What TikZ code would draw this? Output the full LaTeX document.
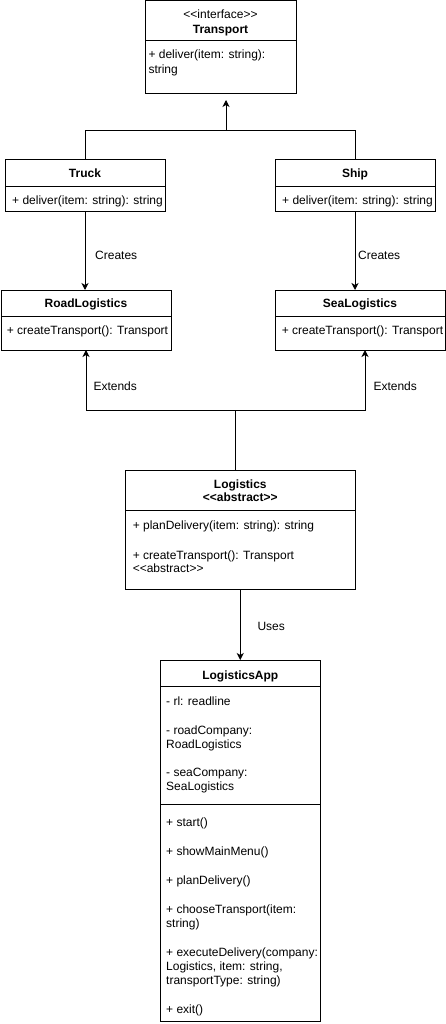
\documentclass[tikz,border=0pt]{standalone}
\usepackage{fontspec}
\newfontfamily\umlfont{Liberation Sans}
\usetikzlibrary{arrows.meta,calc}
\newcommand{\umlsize}{\fontsize{12pt}{14pt}\selectfont}

\begin{document}
\begin{tikzpicture}[x=1pt,y=-1pt,
  umlbox/.style={draw,line width=1pt,anchor=north west,inner sep=0pt,outer sep=0pt},
  sepline/.style={line width=1pt},
  clsname/.style={font=\umlfont\umlsize\bfseries,anchor=base,inner sep=0pt},
  stereo/.style={font=\umlfont\umlsize,anchor=base,inner sep=0pt},
  member/.style={font=\umlfont\umlsize,anchor=base west,inner sep=0pt},
  rellabel/.style={font=\umlfont\umlsize,anchor=base west,inner sep=0pt},
  link/.style={line width=1pt},
  rel/.style={line width=1pt,-{Stealth[length=7pt,width=7pt,inset=2pt]}}]
  \useasboundingbox (0,0) rectangle (446,1024);
  % ---------------- Transport <<interface>> --------------------------
  \node[umlbox,minimum width=151,minimum height=93] (transport) at (145,1) {};
  \draw[sepline] (transport.west |- 0,41) -- (transport.east |- 0,41);
  \node[stereo] (transportStereo) at (220.5,18.7) {<<interface>>};
  \node[clsname] (transportName) at (220.5,33.3) {Transport};
  \node[member] (transportM1) at (148.3,59) {+ deliver(item: string):};
  \node[member] (transportM2) at (148.3,73.3) {string};
  % ---------------- concrete products ----------------------------------
  \node[umlbox,minimum width=160,minimum height=52] (truck) at (5,160) {};
  \draw[sepline] (truck.west |- 0,187) -- (truck.east |- 0,187);
  \node[clsname] (truckName) at (85,177.3) {Truck};
  \node[member] (truckM1) at (12,204.7) {+ deliver(item: string): string};
  \node[umlbox,minimum width=160,minimum height=52] (ship) at (275,160) {};
  \draw[sepline] (ship.west |- 0,187) -- (ship.east |- 0,187);
  \node[clsname] (shipName) at (355,177.3) {Ship};
  \node[member] (shipM1) at (282,204.7) {+ deliver(item: string): string};
  % ---------------- concrete creators ----------------------------------
  \node[umlbox,minimum width=170,minimum height=60] (road) at (1,290) {};
  \draw[sepline] (road.west |- 0,316.5) -- (road.east |- 0,316.5);
  \node[clsname] (roadName) at (86,307.3) {RoadLogistics};
  \node[member] (roadM1) at (6.6,334.7) {+ createTransport(): Transport};
  \node[umlbox,minimum width=170,minimum height=60] (sea) at (275,290) {};
  \draw[sepline] (sea.west |- 0,316.5) -- (sea.east |- 0,316.5);
  \node[clsname] (seaName) at (360,307.3) {SeaLogistics};
  \node[member] (seaM1) at (281.6,334.7) {+ createTransport(): Transport};
  % ---------------- Logistics <<abstract>> -----------------------------
  \node[umlbox,minimum width=230.5,minimum height=119] (logistics) at (125,470) {};
  \draw[sepline] (logistics.west |- 0,510) -- (logistics.east |- 0,510);
  \node[clsname] (logisticsName) at (240.3,488) {Logistics};
  \node[clsname] (logisticsStereo) at (240.3,501.7) {<<abstract>>};
  \node[member] (logisticsM1) at (132.6,529.7) {+ planDelivery(item: string): string};
  \node[member] (logisticsM2) at (132.6,559) {+ createTransport(): Transport};
  \node[member] (logisticsM3) at (132.6,572.3) {<<abstract>>};
  % ---------------- LogisticsApp (client) ------------------------------
  \node[umlbox,minimum width=160.5,minimum height=361.5] (app) at (160,660) {};
  \draw[sepline] (app.west |- 0,686) -- (app.east |- 0,686);
  \draw[sepline] (app.west |- 0,804.3) -- (app.east |- 0,804.3);
  \node[clsname] (appName) at (240.3,679) {LogisticsApp};
  \foreach \yy/\txt [count=\i] in {705/{- rl: readline},734/{- roadCompany:},
      748/{RoadLogistics},776.7/{- seaCompany:},790.7/{SeaLogistics},
      826.7/{+ start()},855.7/{+ showMainMenu()},884.7/{+ planDelivery()},
      913.3/{+ chooseTransport(item:},927.3/{string)},
      956.3/{+ executeDelivery(company:},970.3/{Logistics, item: string,},
      984/{transportType: string)},1013/{+ exit()}}
    \node[member] (appL\i) at (166,\yy) {\txt};
  % ---------------- connectors -----------------------------------------
  % realisation: both products join, one arrow up to the interface
  \coordinate (joinTop) at (226,130.5);
  \draw[link] (truck.north) -- (truck.north |- joinTop) -- (ship.north |- joinTop)
      -- (ship.north);
  \draw[rel] (joinTop) -- (joinTop |- 0,100);
  % creators make their product
  \draw[rel] (truck.south) -- (truck.south |- road.north);
  \node[rellabel] (createsRoad) at (95,259) {Creates};
  \draw[rel] (ship.south) -- (ship.south |- sea.north);
  \node[rellabel] (createsSea) at (358,259) {Creates};
  % both creators extend Logistics
  \coordinate (joinMid) at (235.5,410.5);
  \coordinate (seaFoot) at ([xshift=5pt]sea.south);
  \draw[link] (joinMid |- logistics.north) -- (joinMid);
  \draw[rel] (joinMid) -| (road.south);
  \draw[rel] (joinMid) -| (seaFoot);
  \node[rellabel] (extendsRoad) at (93.3,390) {Extends};
  \node[rellabel] (extendsSea) at (373.3,390) {Extends};
  % the app uses Logistics
  \draw[rel] (logistics.south) -- (app.north);
  \node[rellabel] (usesLbl) at (257.3,630) {Uses};
\end{tikzpicture}
\end{document}
